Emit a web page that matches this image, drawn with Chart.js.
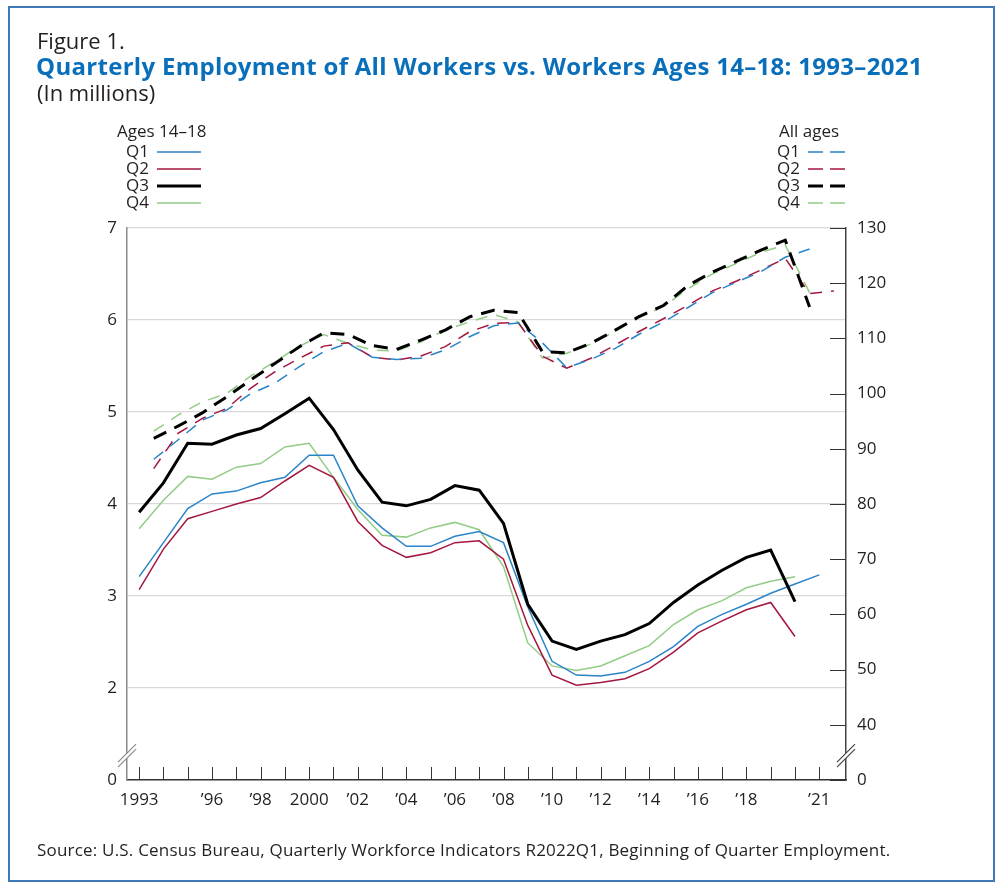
<!DOCTYPE html>
<html lang="en">
<head>
<meta charset="UTF-8">
<title>Quarterly Employment of All Workers vs. Workers Ages 14–18</title>
<script src="https://cdn.jsdelivr.net/npm/chart.js"></script>
<style>
  body { margin: 0; background: #fff; font-family: "Open Sans", sans-serif; color: #231f20; }
  #page { position: relative; width: 1000px; height: 889px; overflow: hidden; }
  #frame { position: absolute; left: 8px; top: 6px; width: 983px; height: 872px; border: 2px solid #3f78b6; }
  .txt { position: absolute; white-space: nowrap; line-height: 26px; }
  #chart { position: absolute; left: 0; top: 0; }
  .leg { position: absolute; font-size: 17px; line-height: 18px; white-space: nowrap; }
  .leg svg { vertical-align: middle; margin-left: 8px; }
</style>
</head>
<body>
<div id="page">
  <div id="frame"></div>
  <canvas id="chart" width="1000" height="889"></canvas>

  <div class="txt" style="left:37px; top:27px; font-size:22px;">Figure 1.</div>
  <div class="txt" style="left:36px; top:53px; font-size:24px; font-weight:700; letter-spacing:0.3px; color:#0a6fba;">Quarterly Employment of All Workers vs. Workers Ages 14–18: 1993–2021</div>
  <div class="txt" style="left:37px; top:79px; font-size:22px;">(In millions)</div>

  <!-- legends -->
  <div class="leg" style="left:117px; top:122px;">Ages 14–18</div>
  <div id="legLeft"></div>
  <div class="leg" style="left:779px; top:122px;">All ages</div>
  <div id="legRight"></div>

  <div class="txt" style="left:37px; top:837px; font-size:17px; letter-spacing:0.2px;">Source: U.S. Census Bureau, Quarterly Workforce Indicators R2022Q1, Beginning of Quarter Employment.</div>
</div>

<script>
  // years on the axis
  const years = [1993, 1994, 1995, 1996, 1997, 1998, 1999, 2000, 2001, 2002, 2003, 2004, 2005, 2006, 2007,
    2008, 2009, 2010, 2011, 2012, 2013, 2014, 2015, 2016, 2017, 2018, 2019, 2020, 2021];
  const yearLabels = { 1993: '1993', 1996: '\u201996', 1998: '\u201998', 2000: '2000', 2002: '\u201902',
    2004: '\u201904', 2006: '\u201906', 2008: '\u201908', 2010: '\u201910', 2012: '\u201912',
    2014: '\u201914', 2016: '\u201916', 2018: '\u201918', 2021: '\u201921' };

  // ages 14-18, millions (left axis)
  const teenQ1 = [3.21, 3.58, 3.95, 4.11, 4.14, 4.23, 4.29, 4.53, 4.53, 3.98, 3.74, 3.54, 3.54, 3.65, 3.70,
    3.58, 2.88, 2.29, 2.14, 2.13, 2.17, 2.29, 2.45, 2.67, 2.80, 2.91, 3.03, 3.13, 3.23];
  const teenQ2 = [3.07, 3.51, 3.84, 3.92, 4.00, 4.07, 4.25, 4.42, 4.29, 3.81, 3.55, 3.42, 3.47, 3.58, 3.60,
    3.40, 2.68, 2.14, 2.03, 2.06, 2.10, 2.21, 2.39, 2.60, 2.73, 2.85, 2.93, 2.56];
  const teenQ3 = [3.91, 4.23, 4.66, 4.65, 4.75, 4.82, 4.98, 5.15, 4.81, 4.37, 4.02, 3.98, 4.05, 4.20, 4.15,
    3.79, 2.91, 2.51, 2.42, 2.51, 2.58, 2.70, 2.93, 3.12, 3.28, 3.42, 3.50, 2.94];
  const teenQ4 = [3.73, 4.04, 4.30, 4.27, 4.40, 4.44, 4.62, 4.66, 4.29, 3.94, 3.66, 3.64, 3.74, 3.80, 3.72,
    3.32, 2.49, 2.24, 2.19, 2.24, 2.35, 2.46, 2.69, 2.85, 2.95, 3.09, 3.16, 3.21];

  // all ages, millions (right axis)
  const allQ1 = [88.1, 91.6, 95.2, 97.0, 100.0, 101.9, 104.9, 107.6, 109.1, 106.6, 106.2, 106.4, 107.9, 110.3,
    112.3, 112.8, 109.2, 104.7, 106.2, 108.2, 110.8, 113.0, 115.6, 118.3, 120.2, 122.1, 124.7, 126.2];
  const allQ2 = [86.4, 92.8, 95.5, 97.3, 101.0, 104.0, 106.4, 108.6, 109.2, 106.6, 106.1, 106.8, 108.5, 111.2,
    112.7, 112.9, 106.8, 104.6, 106.4, 108.8, 111.3, 113.6, 116.0, 118.6, 120.4, 122.4, 124.5, 118.1, 118.6];
  const allQ3 = [91.9, 94.1, 96.5, 99.4, 102.5, 105.5, 108.5, 111.0, 110.7, 108.7, 108.0, 109.7, 111.5, 113.9,
    115.1, 114.7, 107.6, 107.4, 109.1, 111.5, 114.0, 116.0, 119.6, 122.0, 124.0, 126.0, 127.8, 115.7];
  const allQ4 = [93.2, 96.1, 98.5, 100.0, 103.2, 105.8, 108.6, 110.7, 109.1, 107.9, 107.7, 109.4, 111.5, 113.0,
    114.3, 113.0, 106.4, 107.3, 109.0, 111.3, 113.8, 115.8, 119.0, 121.7, 123.6, 125.6, 126.9, 118.3];

  const leftTicks = [0, 2, 3, 4, 5, 6, 7];
  const rightTicks = [0, 40, 50, 60, 70, 80, 90, 100, 110, 120, 130];

  const quarters = ['Q1', 'Q2', 'Q3', 'Q4'];
  const colors = ['#2a84c9', '#a4173f', '#000000', '#92cc86'];

  // both axes are broken below the first gridline: 0 sits one step under it
  const leftPos = v => v === 0 ? 0 : v - 1;
  const rightPos = v => v === 0 ? 0 : v - 30;
  const leftVal = p => p === 0 ? 0 : p + 1;
  const rightVal = p => p === 0 ? 0 : p + 30;

  // all-ages quarters sit part way into the year
  const allShift = 0.6;

  const teen = [teenQ1, teenQ2, teenQ3, teenQ4];
  const all = [allQ1, allQ2, allQ3, allQ4];

  const datasets = [];
  all.forEach((arr, i) => {
    datasets.push({
      label: 'All ages ' + quarters[i],
      data: arr.map((v, k) => ({ x: years[k] + allShift, y: rightPos(v) })),
      yAxisID: 'y2',
      borderColor: colors[i],
      borderWidth: i === 2 ? 3 : 1.5,
      borderDash: i === 2 ? [14, 9] : [12, 9],
      order: i === 2 ? 1 : 2
    });
  });
  teen.forEach((arr, i) => {
    datasets.push({
      label: 'Ages 14-18 ' + quarters[i],
      data: arr.map((v, k) => ({ x: years[k], y: leftPos(v) })),
      yAxisID: 'y',
      borderColor: colors[i],
      borderWidth: i === 2 ? 3 : 1.5,
      order: i === 2 ? 0 : 2
    });
  });

  // legends
  const legendRows = (id, left, dashed) => {
    const box = document.getElementById(id);
    quarters.forEach((q, i) => {
      const d = document.createElement('div');
      d.className = 'leg';
      d.style.left = left + 'px';
      d.style.top = (142 + i * 17) + 'px';
      const w = i === 2 ? 3 : 1.5;
      const dash = dashed ? 'stroke-dasharray="15 7"' : '';
      d.innerHTML = q + '<svg width="44" height="6"><line x1="0" y1="3" x2="44" y2="3" stroke="' + colors[i] +
        '" stroke-width="' + w + '" ' + dash + '/></svg>';
      box.appendChild(d);
    });
  };
  legendRows('legLeft', 126, false);
  legendRows('legRight', 777, true);

  const axisDecor = {
    id: 'axisDecor',
    afterDraw(chart) {
      const ctx = chart.ctx;
      const a = chart.chartArea;
      const xs = chart.scales.x, y2 = chart.scales.y2, y = chart.scales.y;
      ctx.save();
      // inward year ticks
      ctx.strokeStyle = '#333';
      ctx.lineWidth = 1;
      years.forEach(yr => {
        const px = Math.round(xs.getPixelForValue(yr)) + 0.5;
        ctx.beginPath();
        ctx.moveTo(px, a.bottom);
        ctx.lineTo(px, a.bottom - 13);
        ctx.stroke();
      });
      // inward right ticks
      rightTicks.forEach(v => {
        const py = Math.round(y2.getPixelForValue(rightPos(v))) + 0.5;
        ctx.beginPath();
        ctx.moveTo(a.right - 16, py);
        ctx.lineTo(a.right, py);
        ctx.stroke();
      });
      // axis breaks
      const by = y.getPixelForValue(0.27);
      [[a.left, '#8a8a8a'], [a.right, '#444']].forEach(([bx, c]) => {
        ctx.fillStyle = '#fff';
        ctx.beginPath();
        ctx.moveTo(bx - 9, by + 7);
        ctx.lineTo(bx + 9, by - 11);
        ctx.lineTo(bx + 9, by - 6);
        ctx.lineTo(bx - 9, by + 12);
        ctx.closePath();
        ctx.fill();
        ctx.strokeStyle = c;
        ctx.lineWidth = 1.2;
        ctx.beginPath();
        ctx.moveTo(bx - 9, by + 7);
        ctx.lineTo(bx + 9, by - 11);
        ctx.moveTo(bx - 9, by + 12);
        ctx.lineTo(bx + 9, by - 6);
        ctx.stroke();
      });
      ctx.restore();
    }
  };

  const tickFont = { family: '"Open Sans", sans-serif', size: 17 };

  new Chart(document.getElementById('chart'), {
    type: 'line',
    data: { datasets: datasets },
    options: {
      responsive: false,
      animation: false,
      events: [],
      elements: { point: { radius: 0 }, line: { tension: 0, fill: false } },
      layout: { padding: { left: 87, right: 94, top: 228, bottom: 0 } },
      plugins: { legend: { display: false }, tooltip: { enabled: false } },
      scales: {
        x: {
          type: 'linear',
          min: 1992.5,
          max: 2022.1,
          afterFit: s => { s.height = 109; },
          afterBuildTicks: s => { s.ticks = years.map(v => ({ value: v })); },
          grid: { display: false, drawTicks: false },
          border: { display: true, color: '#333', width: 1.5 },
          ticks: {
            autoSkip: false, maxRotation: 0, padding: 10, color: '#231f20', font: tickFont,
            callback: v => yearLabels[v] || ''
          }
        },
        y: {
          position: 'left',
          min: 0,
          max: 6,
          afterFit: s => { s.width = 40; },
          afterBuildTicks: s => { s.ticks = leftTicks.map(v => ({ value: leftPos(v) })); },
          grid: {
            drawTicks: false,
            color: c => c.tick && c.tick.value === 0 ? 'rgba(0,0,0,0)' : '#d9d9d9',
            lineWidth: 1.2
          },
          border: { display: true, color: '#8a8a8a', width: 1.5 },
          ticks: { padding: 10, color: '#231f20', font: tickFont, callback: v => String(leftVal(v)) }
        },
        y2: {
          position: 'right',
          min: 0,
          max: 100,
          afterFit: s => { s.width = 60; },
          afterBuildTicks: s => { s.ticks = rightTicks.map(v => ({ value: rightPos(v) })); },
          grid: { drawOnChartArea: false, drawTicks: false },
          border: { display: true, color: '#444', width: 1.5 },
          ticks: { padding: 11, color: '#231f20', font: tickFont, callback: v => String(rightVal(v)) }
        }
      }
    },
    plugins: [axisDecor]
  });
</script>
</body>
</html>
